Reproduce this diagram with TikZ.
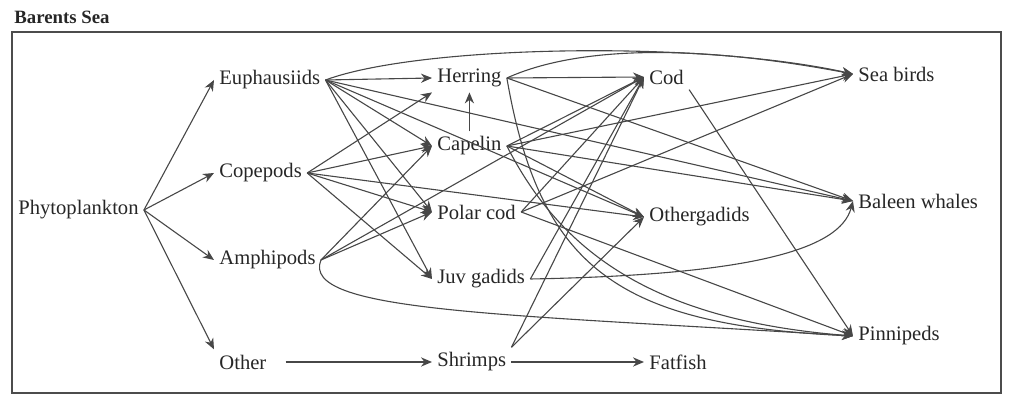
\documentclass[tikz,border=0pt]{standalone}
\usepackage{fontspec}
\setmainfont{Liberation Serif}
\usetikzlibrary{arrows.meta,calc}
\begin{document}
\begin{tikzpicture}[x=0.5pt,y=-0.5pt,
  lbl/.style={anchor=west,inner sep=2.5pt,text=black!85,font=\fontsize{10.3}{12}\selectfont},
  edge/.style={draw=black!72,line width=0.55pt,-{Stealth[length=5.5pt,width=4.6pt]}},
  frame/.style={draw=black!70,line width=0.8pt}]
\useasboundingbox (0,0) rectangle (1009,394);
\draw[frame] (12,32) rectangle (1001,393);
\node[anchor=west,inner sep=0pt,font=\bfseries\fontsize{9.4}{11}\selectfont,text=black!85] (title) at (14,17) {Barents Sea};
% nodes
\node[lbl] (phyto) at (13,210) {Phytoplankton};
\node[lbl] (euph) at (214,80) {Euphausiids};
\node[lbl] (cope) at (214,173) {Copepods};
\node[lbl] (amph) at (214,260) {Amphipods};
\node[lbl] (other) at (214,362) {Other};
\node[lbl] (herring) at (432,78) {Herring};
\node[lbl] (capelin) at (432,146) {Capelin};
\node[lbl] (polarcod) at (432,212) {Polar cod};
\node[lbl] (juv) at (432,279) {Juv gadids};
\node[lbl] (shrimps) at (432,362) {Shrimps};
\node[lbl] (cod) at (644,77) {Cod};
\node[lbl] (othg) at (644,217) {Othergadids};
\node[lbl] (fatfish) at (644,362) {Fatfish};
\node[lbl] (seabirds) at (853,74) {Sea birds};
\node[lbl] (baleen) at (853,201) {Baleen whales};
\node[lbl] (pinn) at (853,336) {Pinnipeds};
% phytoplankton
\draw[edge] (phyto.east) -- (euph.west);
\draw[edge] (phyto.east) -- (cope.west);
\draw[edge] (phyto.east) -- (amph.west);
\draw[edge] (phyto.east) -- (other.north west);
\draw[edge,shorten <=7pt] (other.east) -- (shrimps.west);
\draw[edge] (shrimps.east) -- (fatfish.west);
% euphausiids
\draw[edge] (euph.east) -- (herring.west);
\draw[edge] (euph.east) -- (capelin.west);
\draw[edge] (euph.east) -- (polarcod.west);
\draw[edge] (euph.east) -- (juv.west);
\draw[edge] (euph.east) -- (othg.west);
\draw[edge] (euph.east) -- (baleen.west);
\draw[edge] (euph.east) .. controls (420,45) and (700,40) .. (seabirds.west);
% copepods
\draw[edge] (cope.east) -- (herring.south west);
\draw[edge] (cope.east) -- (capelin.west);
\draw[edge] (cope.east) -- (polarcod.west);
\draw[edge] (cope.east) -- (juv.west);
\draw[edge] (cope.east) -- (othg.west);
% amphipods
\draw[edge] (amph.east) -- (capelin.west);
\draw[edge] (amph.east) -- (polarcod.west);
\draw[edge] (amph.east) -- (cod.west);
\draw[edge] (amph.east) .. controls (300,312) and (500,314) .. (pinn.west);
% herring
\draw[edge] (herring.east) -- (cod.west);
\draw[edge] (herring.east) -- (baleen.west);
\draw[edge] (herring.east) .. controls (580,45) and (700,45) .. (seabirds.west);
\draw[edge] (herring.east) .. controls (540,270) and (620,325) .. (pinn.west);
% capelin
\draw[edge] (capelin.north) -- (capelin.north |- herring.south);
\draw[edge] (capelin.east) -- (cod.west);
\draw[edge] (capelin.east) -- (seabirds.west);
\draw[edge] (capelin.east) -- (baleen.west);
\draw[edge] (capelin.east) -- (othg.west);
\draw[edge] (capelin.east) .. controls (560,250) and (650,320) .. (pinn.west);
% polar cod
\draw[edge] (polarcod.east) -- (cod.west);
\draw[edge] (polarcod.east) -- (seabirds.west);
\draw[edge] (polarcod.east) -- (pinn.west);
% juvenile gadids
\draw[edge] (juv.east) -- (cod.west);
\draw[edge] (juv.east) .. controls (750,275) and (840,250) .. (baleen.west);
% shrimps
\draw[edge] (shrimps.north east) -- (cod.west);
\draw[edge] (shrimps.north east) -- (othg.west);
% cod
\draw[edge] (cod.south east) -- (pinn.west);
\end{tikzpicture}
\end{document}
